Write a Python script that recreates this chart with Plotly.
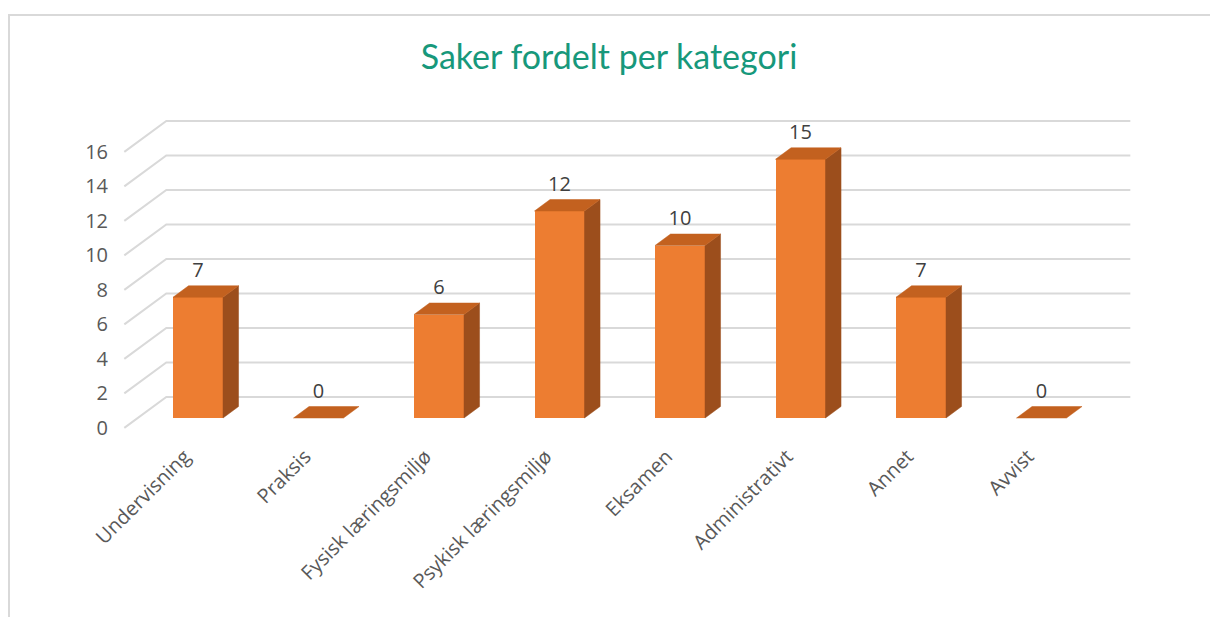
import plotly.graph_objects as go

# ---------------- data ----------------
categories = ["Undervisning", "Praksis", "Fysisk læringsmiljø", "Psykisk læringsmiljø",
              "Eksamen", "Administrativt", "Annet", "Avvist"]
values = [7, 0, 6, 12, 10, 15, 7, 0]
y_ticks = [0, 2, 4, 6, 8, 10, 12, 14, 16]
title_text = "Saker fordelt per kategori"

# ---------------- styling / geometry ----------------
W, H = 1210, 617
PX_X = 120.5          # pixels per category
PX_Y = 17.25          # pixels per value unit
X0_PX = 198           # pixel of first bar centre
Y0_PX = 418           # pixel of bar base (front face)
PLOT_L, PLOT_R, PLOT_T, PLOT_B = 123, 1140, 100, 440
DEPTH_X = 42 / PX_X   # full floor depth (x units)
DEPTH_Y = 31 / PX_Y   # full floor depth (y units)
F_FRONT, F_BACK = 0.32, 0.69
BAR_W = 50 / PX_X

FRONT = "#ED7D31"
TOP = "#C3611F"
SIDE = "#9C4E1C"
GRID = "#D9D9D9"
TXT = "#595959"
FONT = "Open Sans"


def proj(c, f, v):
    """category position, depth fraction, value -> bar-layer axis coords"""
    return c + DEPTH_X * (f - F_FRONT), v + DEPTH_Y * (f - F_FRONT)


n = len(categories)
pos = list(range(n))
off = DEPTH_Y * F_FRONT   # shift between front plane (labels) and bar front

fig = go.Figure()

# ---- grid (base subplot, tick-label axis coords): back wall + left diagonals ----
gx, gy = [], []
for t in y_ticks:
    xa, ya = proj(-0.5, 0.0, t)
    xb, yb = proj(-0.5, 1.0, t)
    xc, yc = proj(n - 0.5, 1.0, t)
    gx += [xa, xb, xc, None]
    gy += [ya + off, yb + off, yc + off, None]
fig.add_trace(go.Scatter(x=gx, y=gy, mode="lines", line=dict(color=GRID, width=2),
                         hoverinfo="skip", showlegend=False))

# ---- front faces (overlay subplot) ----
fig.add_trace(go.Bar(x=pos, y=values, width=BAR_W, yaxis="y2",
                     marker=dict(color=FRONT, line=dict(width=0)),
                     showlegend=False, hoverinfo="skip"))

# ---- side faces ----
sx, sy = [], []
for c, v in zip(pos, values):
    if v <= 0:
        continue
    r = c + BAR_W / 2
    pts = [proj(r, F_FRONT, 0), proj(r, F_FRONT, v), proj(r, F_BACK, v), proj(r, F_BACK, 0)]
    for p in pts + [pts[0]]:
        sx.append(p[0]); sy.append(p[1])
    sx.append(None); sy.append(None)
fig.add_trace(go.Scatter(x=sx, y=sy, yaxis="y2", mode="lines", fill="toself", fillcolor=SIDE,
                         line=dict(width=0.5, color=SIDE), hoverinfo="skip", showlegend=False))

# ---- top faces ----
tx, ty = [], []
for c, v in zip(pos, values):
    l, r = c - BAR_W / 2, c + BAR_W / 2
    pts = [proj(l, F_FRONT, v), proj(r, F_FRONT, v), proj(r, F_BACK, v), proj(l, F_BACK, v)]
    for p in pts + [pts[0]]:
        tx.append(p[0]); ty.append(p[1])
    tx.append(None); ty.append(None)
fig.add_trace(go.Scatter(x=tx, y=ty, yaxis="y2", mode="lines", fill="toself", fillcolor=TOP,
                         line=dict(width=0.5, color=TOP), hoverinfo="skip", showlegend=False))

# ---- data labels ----
LABEL_OFF = 1.45
fig.add_trace(go.Scatter(x=pos, y=[v + LABEL_OFF for v in values], yaxis="y2", mode="text",
                         text=[str(v) for v in values], textposition="middle center",
                         textfont=dict(family=FONT, size=20, color="#404040"),
                         hoverinfo="skip", showlegend=False))

xr = [(PLOT_L - X0_PX) / PX_X, (PLOT_R - X0_PX) / PX_X]
yr = [(Y0_PX - PLOT_B) / PX_Y, (Y0_PX - PLOT_T) / PX_Y]
y1r = [yr[0] + off, yr[1] + off]

fig.update_layout(
    width=W, height=H,
    margin=dict(l=PLOT_L, r=W - PLOT_R, t=PLOT_T, b=H - PLOT_B),
    paper_bgcolor="white", plot_bgcolor="white",
    bargap=0,
    title=dict(text=title_text, x=609 / W, xanchor="center", y=1 - 57 / H, yanchor="middle",
               font=dict(family="Lato", size=34, color="#17987B")),
    xaxis=dict(range=xr, tickmode="array", tickvals=[c - DEPTH_X * F_FRONT for c in pos],
               ticktext=categories,
               tickangle=-45, showgrid=False, zeroline=False, showline=False, ticks="",
               tickfont=dict(family=FONT, size=20, color=TXT), fixedrange=True),
    yaxis=dict(range=y1r, tickmode="array", tickvals=y_ticks,
               showgrid=False, zeroline=False, showline=False, ticks="",
               ticklabelstandoff=14,
               tickfont=dict(family=FONT, size=20, color=TXT), fixedrange=True),
    yaxis2=dict(range=yr, overlaying="y", side="left", visible=False, fixedrange=True),
    shapes=[dict(type="rect", xref="paper", yref="paper",
                 x0=(9 - PLOT_L) / (PLOT_R - PLOT_L), x1=1.2,
                 y0=-0.6, y1=(PLOT_B - 15) / (PLOT_B - PLOT_T),
                 line=dict(color=GRID, width=2), fillcolor="rgba(0,0,0,0)", layer="below")],
)

fig.write_html("out.html")
